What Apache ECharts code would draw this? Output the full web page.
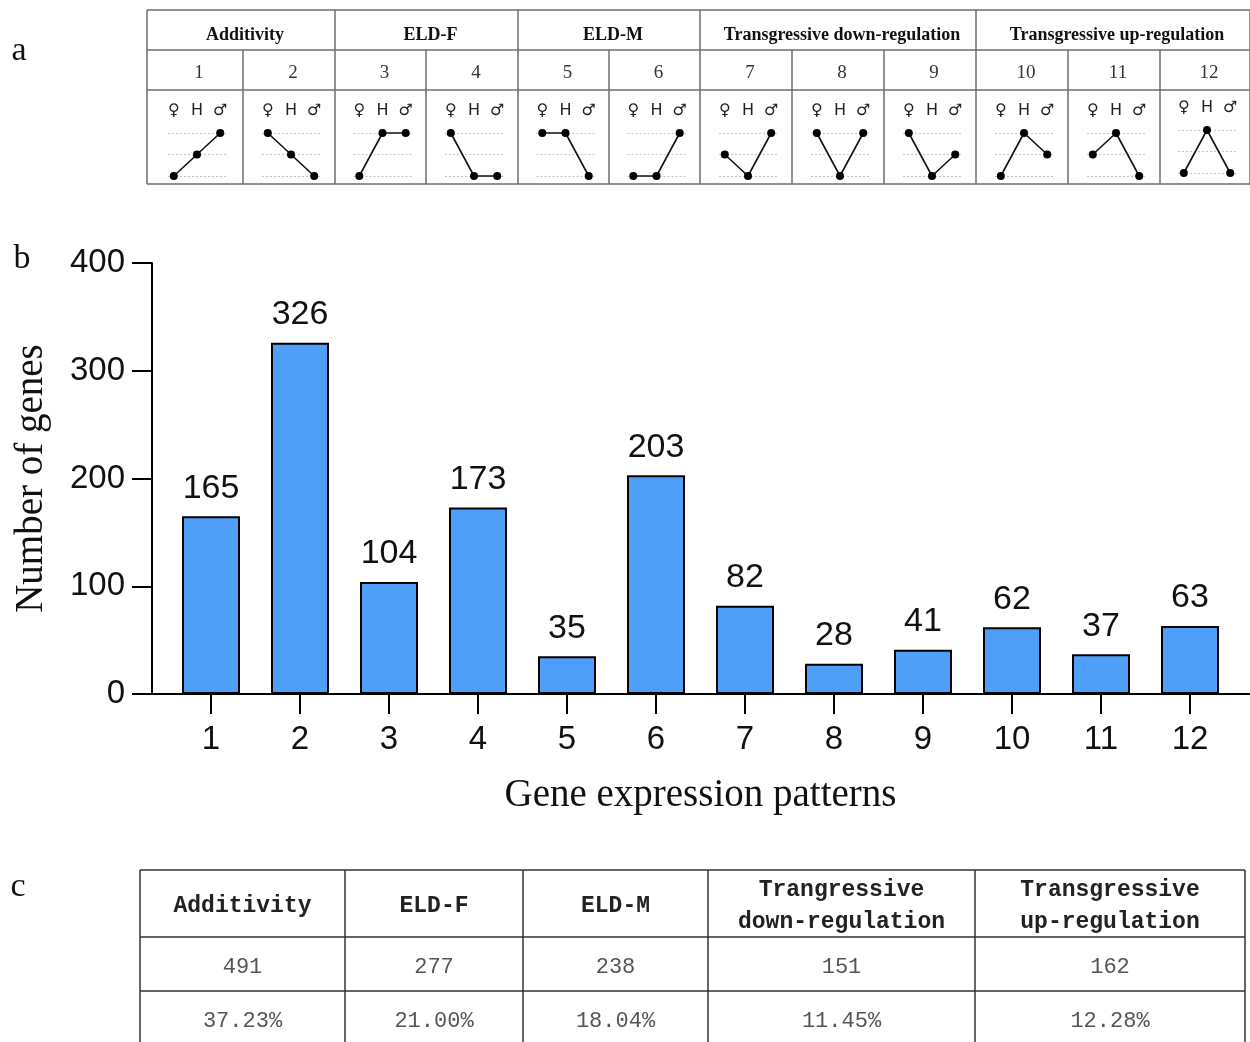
<!DOCTYPE html>
<html>
<head>
<meta charset="utf-8">
<title>Gene expression patterns</title>
<script src="https://cdn.jsdelivr.net/npm/echarts@6/dist/echarts.min.js"></script>
<style>
  html, body { margin: 0; padding: 0; background: #fff; }
  #chart { width: 1250px; height: 1042px; }
</style>
</head>
<body>
<div id="chart"></div>
<script>
// ---- data ----
const patternIds = ['1', '2', '3', '4', '5', '6', '7', '8', '9', '10', '11', '12'];
const geneCounts = [165, 326, 104, 173, 35, 203, 82, 28, 41, 62, 37, 63];

// relative expression level (0 low, 1 middle, 2 high) for female parent, hybrid, male parent
const femaleLevel = [0, 2, 0, 2, 2, 0, 1, 2, 2, 0, 1, 0];
const hybridLevel = [1, 1, 2, 0, 2, 0, 0, 0, 0, 2, 2, 2];
const maleLevel   = [2, 0, 2, 0, 0, 2, 2, 2, 1, 1, 0, 0];
const sexLabels = ['♀', 'H', '♂'];

const groupNames = ['Additivity', 'ELD-F', 'ELD-M', 'Transgressive down-regulation', 'Transgressive up-regulation'];
const groupSpans = [2, 2, 2, 3, 3];

const summaryHeaders = ['Additivity', 'ELD-F', 'ELD-M', 'Trangressive\ndown-regulation', 'Transgressive\nup-regulation'];
const summaryCounts = ['491', '277', '238', '151', '162'];
const summaryPercents = ['37.23%', '21.00%', '18.04%', '11.45%', '12.28%'];

const yAxisMax = 400;
const yAxisStep = 100;

// ---- layout ----
const SERIF = '"Liberation Serif", "Times New Roman", serif';
const SANS = '"Liberation Sans", Arial, sans-serif';
const MONO = '"Liberation Mono", "Courier New", monospace';

const colsA = [147, 243, 335, 426, 518, 609, 700, 792, 884, 976, 1068, 1160, 1250];
const rowsA = [10, 50, 90, 184];
const colsC = [140, 345, 523, 708, 975, 1245];
const rowsC = [870, 937, 991, 1045];

const barGrid = { left: 166.5, width: 1068, top: 263, height: 431 };

const chart = echarts.init(document.getElementById('chart'), null, { renderer: 'canvas' });

const grids = [];
const xAxes = [];
const yAxes = [];
const series = [];
const graphics = [];

// main bar chart (grid 0) and full-width frame axes (grid 1)
grids.push({ left: barGrid.left, width: barGrid.width, top: barGrid.top, height: barGrid.height });
grids.push({ left: 152, right: 0, top: barGrid.top, height: barGrid.height });

xAxes.push({
  gridIndex: 0,
  type: 'category',
  data: patternIds,
  axisLine: { show: false },
  axisTick: { show: true, alignWithLabel: true, length: 20, lineStyle: { color: '#000', width: 2 } },
  axisLabel: { interval: 0, margin: 29, fontSize: 33, color: '#111', fontFamily: SANS },
  name: 'Gene expression patterns',
  nameLocation: 'middle',
  nameGap: 82,
  nameTextStyle: { fontSize: 39, color: '#111', fontFamily: SERIF }
});
yAxes.push({ gridIndex: 0, type: 'value', min: 0, max: yAxisMax, interval: yAxisStep, show: false });

xAxes.push({
  gridIndex: 1,
  type: 'value',
  min: 0,
  max: 1,
  axisLine: { show: true, lineStyle: { color: '#000', width: 2 } },
  axisTick: { show: false },
  axisLabel: { show: false },
  splitLine: { show: false }
});
yAxes.push({
  gridIndex: 1,
  type: 'value',
  min: 0,
  max: yAxisMax,
  interval: yAxisStep,
  axisLine: { show: true, lineStyle: { color: '#000', width: 2 } },
  axisTick: { show: true, length: 20, lineStyle: { color: '#000', width: 2 } },
  axisLabel: { margin: 27, fontSize: 33, color: '#111', fontFamily: SANS },
  splitLine: { show: false },
  name: 'Number of genes',
  nameLocation: 'middle',
  nameGap: 101,
  nameTextStyle: { fontSize: 39, color: '#111', fontFamily: SERIF }
});

series.push({
  type: 'bar',
  xAxisIndex: 0,
  yAxisIndex: 0,
  data: geneCounts,
  barWidth: 58,
  itemStyle: { color: '#4f9ef8', borderColor: '#000', borderWidth: 2 },
  label: { show: true, position: 'top', distance: 11, fontSize: 34, color: '#111', fontFamily: SANS }
});

// mini pattern plots inside table a
patternIds.forEach(function (id, i) {
  const cx = (colsA[i] + colsA[i + 1]) / 2 + 2;
  const nudge = i === 11 ? -3 : 0;
  const gi = grids.length;
  grids.push({ left: cx - 29, width: 58, top: 133 + nudge, height: 43 });
  xAxes.push({
    gridIndex: gi,
    type: 'value',
    min: -0.25,
    max: 2.25,
    position: 'top',
    axisLine: { show: false },
    axisTick: { show: false },
    splitLine: { show: false },
    axisLabel: {
      customValues: [0, 1, 2],
      formatter: function (v) { return sexLabels[Math.round(v)]; },
      margin: 14,
      fontSize: 16,
      color: '#222',
      fontFamily: '"DejaVu Sans", sans-serif'
    }
  });
  yAxes.push({
    gridIndex: gi,
    type: 'value',
    min: 0,
    max: 2,
    interval: 1,
    axisLine: { show: false },
    axisTick: { show: false },
    axisLabel: { show: false },
    splitLine: { show: true, lineStyle: { color: '#c4c4c4', width: 1, type: [2, 2] } }
  });
  series.push({
    type: 'line',
    xAxisIndex: gi,
    yAxisIndex: gi,
    clip: false,
    data: [[0, femaleLevel[i]], [1, hybridLevel[i]], [2, maleLevel[i]]],
    symbol: 'circle',
    symbolSize: 8,
    itemStyle: { color: '#000' },
    lineStyle: { color: '#111', width: 1.6 },
    silent: true
  });
});

// ---- table a: frame and text ----
function hLine(x1, x2, y, color, w) {
  return { type: 'line', shape: { x1: x1, y1: y, x2: x2, y2: y }, style: { stroke: color, lineWidth: w }, silent: true };
}
function vLine(x, y1, y2, color, w) {
  return { type: 'line', shape: { x1: x, y1: y1, x2: x, y2: y2 }, style: { stroke: color, lineWidth: w }, silent: true };
}
function label(text, x, y, font, fill, extra) {
  const st = Object.assign({ text: text, x: x, y: y, font: font, fill: fill, textAlign: 'center', textVerticalAlign: 'middle' }, extra || {});
  return { type: 'text', style: st, silent: true };
}

const lineA = '#6e6e6e';
rowsA.forEach(function (y) { graphics.push(hLine(colsA[0], colsA[colsA.length - 1], y, lineA, 1.5)); });
graphics.push(vLine(colsA[0], rowsA[0], rowsA[3], lineA, 1.5));
graphics.push(vLine(colsA[colsA.length - 1], rowsA[0], rowsA[3], lineA, 1.5));

let colIdx = 0;
groupNames.forEach(function (g, k) {
  const start = colIdx;
  const end = colIdx + groupSpans[k];
  graphics.push(label(g, (colsA[start] + colsA[end]) / 2 + 4, (rowsA[0] + rowsA[1]) / 2 + 5, 'bold 18px ' + SERIF, '#111'));
  if (end < colsA.length - 1) graphics.push(vLine(colsA[end], rowsA[0], rowsA[3], lineA, 1.5));
  for (let c = start + 1; c < end; c++) graphics.push(vLine(colsA[c], rowsA[1], rowsA[3], lineA, 1.5));
  colIdx = end;
});
patternIds.forEach(function (id, i) {
  graphics.push(label(id, (colsA[i] + colsA[i + 1]) / 2 + 4, (rowsA[1] + rowsA[2]) / 2 + 3, '19px ' + SERIF, '#333'));
});

// ---- table c ----
const lineC = '#333';
rowsC.forEach(function (y) { graphics.push(hLine(colsC[0], colsC[colsC.length - 1], y, lineC, 1.5)); });
colsC.forEach(function (x) { graphics.push(vLine(x, rowsC[0], rowsC[3], lineC, 1.5)); });
summaryHeaders.forEach(function (h, i) {
  const cx = (colsC[i] + colsC[i + 1]) / 2;
  graphics.push(label(h, cx, (rowsC[0] + rowsC[1]) / 2 + 3, 'bold 23px ' + MONO, '#222', { lineHeight: 32 }));
  graphics.push(label(summaryCounts[i], cx, (rowsC[1] + rowsC[2]) / 2 + 3, '22px ' + MONO, '#555'));
  graphics.push(label(summaryPercents[i], cx, (rowsC[2] + rowsC[3]) / 2 + 3, '22px ' + MONO, '#555'));
});

// ---- panel letters ----
graphics.push(label('a', 19, 51, '34px ' + SERIF, '#111'));
graphics.push(label('b', 22, 259, '34px ' + SERIF, '#111'));
graphics.push(label('c', 18, 887, '34px ' + SERIF, '#111'));

chart.setOption({
  backgroundColor: '#fff',
  animation: false,
  grid: grids,
  xAxis: xAxes,
  yAxis: yAxes,
  series: series,
  graphic: { elements: graphics }
});
</script>
</body>
</html>
